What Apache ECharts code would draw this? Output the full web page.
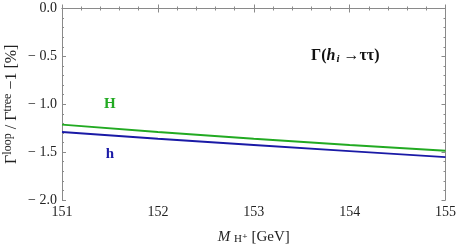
<!DOCTYPE html>
<html><head><meta charset="utf-8">
<script src="https://cdn.jsdelivr.net/npm/echarts@6/dist/echarts.min.js"></script>
<style>html,body{margin:0;padding:0;background:#fff}#c{width:458px;height:246px}</style>
</head><body><div id="c"></div>
<script>
const masses = [151, 152, 153, 154, 155];
const valuesH = [-1.213, -1.29, -1.36, -1.425, -1.485];
const valuesh = [-1.29, -1.36, -1.425, -1.49, -1.552];
const yTicks = [0, -0.5, -1.0, -1.5, -2.0];
const xTicks = [151, 152, 153, 154, 155];

const serif = '"Liberation Serif", "DejaVu Serif", serif';
const axisCol = '#8a8a8a';
const green = '#22aa22';
const blue = '#1a1aa6';

const chart = echarts.init(document.getElementById('c'));
function pair(a, b) { return a.map((v, i) => [v, b[i]]); }
const fmtY = v => v < 0 ? '\u2212 ' + Math.abs(v).toFixed(1) : v.toFixed(1);

const baseX = {
  type: 'value', min: 151, max: 155, interval: 1,
  axisLine: { show: true, lineStyle: { color: axisCol, width: 1 } },
  axisTick: { show: true, inside: true, length: 4, lineStyle: { color: axisCol } },
  minorTick: { show: true, splitNumber: 5, length: 2, lineStyle: { color: axisCol } },
  splitLine: { show: false }
};
const baseY = {
  type: 'value', min: -2, max: 0, interval: 0.5,
  axisLine: { show: true, lineStyle: { color: axisCol, width: 1 } },
  axisTick: { show: true, inside: true, length: 4, lineStyle: { color: axisCol } },
  minorTick: { show: true, splitNumber: 5, length: 2, lineStyle: { color: axisCol } },
  splitLine: { show: false }
};

chart.setOption({
  animation: false,
  grid: { left: 62, right: 12.5, top: 8.5, bottom: 46, outerBoundsMode: 'none', containLabel: false },
  xAxis: [
    Object.assign({}, baseX, {
      position: 'bottom',
      axisLabel: { color: '#222', fontFamily: serif, fontSize: 14, margin: 5,
        formatter: v => xTicks.includes(v) ? String(v) : '' },
      name: '{i|M} {s|H\u207A} [GeV]',
      nameLocation: 'middle', nameGap: 30, nameMoveOverlap: false,
      nameTextStyle: { color: '#222', fontFamily: serif, fontSize: 15,
        rich: { i: { fontFamily: serif, fontStyle: 'italic', fontSize: 15, color: '#222' },
                s: { fontFamily: serif, fontSize: 11, color: '#222', padding: [4, 0, 0, 0] } } }
    }),
    Object.assign({}, baseX, { position: 'top', axisLabel: { show: false } })
  ],
  yAxis: [
    Object.assign({}, baseY, {
      position: 'left',
      axisLabel: { color: '#222', fontFamily: serif, fontSize: 14, margin: 5,
        formatter: v => yTicks.some(t => Math.abs(t - v) < 1e-9) ? fmtY(v) : '' },
      name: '\u0393{s|loop} / \u0393{s|tree} \u22121 [%]',
      nameLocation: 'middle', nameGap: 40, nameMoveOverlap: false,
      nameTextStyle: { color: '#222', fontFamily: serif, fontSize: 16,
        rich: { s: { fontFamily: serif, fontSize: 12, color: '#222', padding: [0, 0, 8, 0] } } }
    }),
    Object.assign({}, baseY, { position: 'right', axisLabel: { show: false } })
  ],
  series: [
    {
      type: 'line', data: pair(masses, valuesH), showSymbol: false, smooth: false,
      lineStyle: { color: green, width: 1.9 }, itemStyle: { color: green },
      markPoint: { symbol: 'circle', symbolSize: 0, data: [{ coord: [151.5, -1.0],
        label: { show: true, position: 'inside', formatter: 'H', color: green,
          fontFamily: serif, fontWeight: 'bold', fontSize: 15 } }] }
    },
    {
      type: 'line', data: pair(masses, valuesh), showSymbol: false, smooth: false,
      lineStyle: { color: blue, width: 1.9 }, itemStyle: { color: blue },
      markPoint: { symbol: 'circle', symbolSize: 0, data: [{ coord: [151.5, -1.52],
        label: { show: true, position: 'inside', formatter: 'h', color: blue,
          fontFamily: serif, fontWeight: 'bold', fontSize: 15 } }] }
    }
  ],
  graphic: [{
    type: 'text', left: 311, top: 48,
    style: {
      text: '{b|\u0393(}{i|h}{s|i}{b| \u2192\u03C4\u03C4)}',
      rich: {
        b: { fontFamily: serif, fontWeight: 'bold', fontSize: 16, fill: '#111' },
        i: { fontFamily: serif, fontWeight: 'bold', fontStyle: 'italic', fontSize: 16, fill: '#111' },
        s: { fontFamily: serif, fontWeight: 'bold', fontStyle: 'italic', fontSize: 11, fill: '#111', padding: [7, 0, 0, 1] }
      }
    }
  }]
});
</script></body></html>
